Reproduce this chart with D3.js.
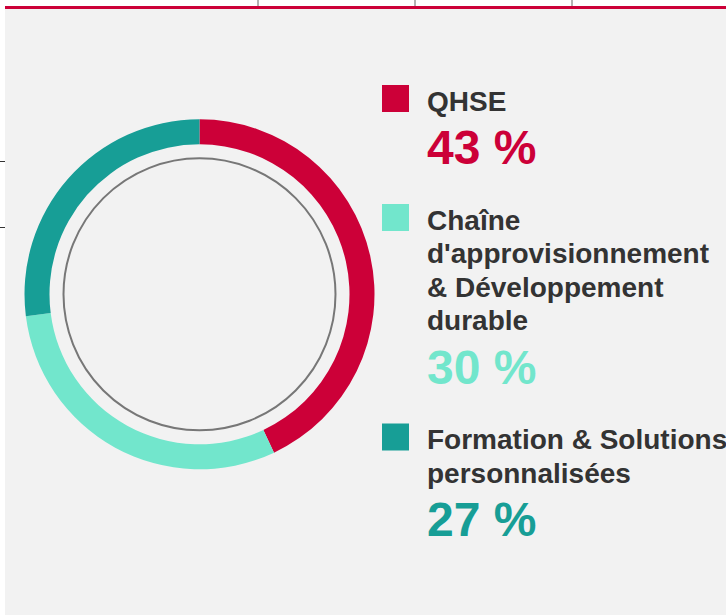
<!DOCTYPE html>
<html>
<head>
<meta charset="utf-8">
<script src="https://cdn.jsdelivr.net/npm/d3@7"></script>
<style>
  body { margin: 0; background: #fff; }
  svg { display: block; }
</style>
</head>
<body>
<div id="chart"></div>
<script>
var w = 726;
var h = 615;

// data
var categories = ["QHSE", "Chaîne d'approvisionnement & Développement durable", "Formation & Solutions personnalisées"];
var labelLines = [["QHSE"], ["Chaîne", "d'approvisionnement", "& Développement", "durable"], ["Formation & Solutions", "personnalisées"]];
var values = [43, 30, 27];
var colors = ["#cc0038", "#72e6cc", "#179e96"];
var topTicks = [258, 415, 572];
var leftTicks = [161, 227];

var svg = d3.select("#chart").append("svg").attr("width", w).attr("height", h);

// background panel
svg.append("rect").attr("x", 5).attr("y", 9).attr("width", w - 5).attr("height", h - 9).attr("fill", "#f2f2f2");

// bits of the surrounding table
svg.selectAll(".vt").data(topTicks).enter().append("line")
  .attr("x1", function(d) { return d; }).attr("x2", function(d) { return d; })
  .attr("y1", 0).attr("y2", 8)
  .attr("stroke", "#666").attr("stroke-width", 1);
svg.append("rect").attr("x", 5).attr("y", 6).attr("width", w - 5).attr("height", 3).attr("fill", "#cc0038");
svg.selectAll(".ht").data(leftTicks).enter().append("line")
  .attr("x1", 0).attr("x2", 5)
  .attr("y1", function(d) { return d + 0.5; }).attr("y2", function(d) { return d + 0.5; })
  .attr("stroke", "#333").attr("stroke-width", 1);

// donut
var cx = 199.5, cy = 294.3;
var g = svg.append("g").attr("transform", "translate(" + cx + "," + cy + ")");

var pie = d3.pie().sort(null).value(function(d) { return d; });
var arc = d3.arc().innerRadius(150).outerRadius(175);

g.selectAll("path").data(pie(values)).enter().append("path")
  .attr("d", arc)
  .attr("fill", function(d, i) { return colors[i]; });

g.append("circle").attr("r", 136).attr("fill", "none").attr("stroke", "#777").attr("stroke-width", 2);

// legend
var lx = 382, tx = 427;
var y = 85;
for (var i = 0; i < categories.length; i++) {
  svg.append("rect").attr("x", lx).attr("y", y).attr("width", 27).attr("height", 27).attr("fill", colors[i]);
  var base = y + 25.5;
  for (var j = 0; j < labelLines[i].length; j++) {
    svg.append("text").text(labelLines[i][j])
      .attr("x", tx).attr("y", base + j * 33.5)
      .attr("font-family", "Liberation Sans, Arial, sans-serif")
      .attr("font-weight", "bold").attr("font-size", 28)
      .attr("fill", "#333");
  }
  var pctY = base + (labelLines[i].length - 1) * 33.5 + 53.5;
  svg.append("text").text(values[i] + " %")
    .attr("x", tx).attr("y", pctY)
    .attr("font-family", "Liberation Sans, Arial, sans-serif")
    .attr("font-weight", "bold").attr("font-size", 48)
    .attr("fill", colors[i]);
  y = pctY + 40;
}
</script>
</body>
</html>
